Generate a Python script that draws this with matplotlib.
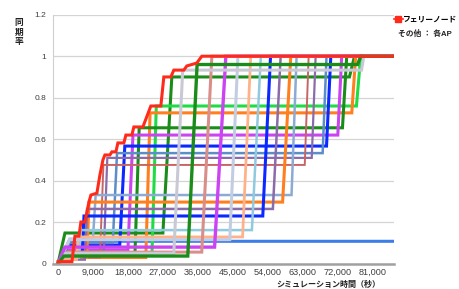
import matplotlib
matplotlib.use("Agg")
import matplotlib.pyplot as plt
from matplotlib.lines import Line2D

plt.rcParams['font.family'] = ['Liberation Sans', 'Noto Sans CJK JP', 'DejaVu Sans']

# ferry node (red staircase)
ferry_x = [0, 3600, 4370, 5400, 5910, 6940, 7450, 7970, 8480, 10020, 10790, 11570, 12080,
           13360, 13880, 14910, 15420, 16960, 17480, 19020, 19530, 21850, 23900, 26470,
           27240, 29040, 29810, 32380, 33150, 35720, 37010, 86400]
ferry_y = [0.01, 0.01, 0.133, 0.133, 0.201, 0.201, 0.249, 0.297, 0.331, 0.340, 0.427, 0.50, 0.524,
           0.524, 0.539, 0.539, 0.582, 0.582, 0.62, 0.62, 0.659, 0.659, 0.76, 0.76,
           0.90, 0.90, 0.933, 0.933, 0.953, 0.967, 1.0, 1.0]

# access points (time [s], sync rate)
ap01_x = [0, 1500, 33400, 35800, 77100, 77900, 86400]
ap01_y = [0, 0.037, 0.037, 0.96, 0.96, 1.0, 1.0]
ap02_x = [0, 2000, 29800, 32100, 78100, 78700, 86400]
ap02_y = [0, 0.05, 0.05, 0.933, 0.933, 1.0, 1.0]
ap03_x = [0, 2500, 37000, 39600, 86400]
ap03_y = [0, 0.056, 0.056, 1.0, 1.0]
ap04_x = [0, 1800, 40300, 43200, 86400]
ap04_y = [0, 0.08, 0.08, 1.0, 1.0]
ap21_x = [0, 3000, 86400]
ap21_y = [0, 0.108, 0.108]
ap05_x = [0, 3000, 44200, 46300, 86400]
ap05_y = [0, 0.116, 0.116, 1.0, 1.0]
ap06_x = [0, 2000, 4800, 5200, 47500, 49600, 86400]
ap06_y = [0, 0.02, 0.02, 0.129, 0.129, 1.0, 1.0]
ap07_x = [0, 2000, 5400, 5900, 49900, 52200, 86400]
ap07_y = [0, 0.03, 0.03, 0.162, 0.162, 1.0, 1.0]
ap08_x = [0, 1500, 6200, 6700, 52700, 54700, 86400]
ap08_y = [0, 0.04, 0.04, 0.23, 0.23, 1.0, 1.0]
ap09_x = [0, 1500, 6900, 7500, 55300, 57300, 86400]
ap09_y = [0, 0.02, 0.02, 0.264, 0.264, 1.0, 1.0]
ap10_x = [0, 2000, 7400, 8000, 57800, 59900, 86400]
ap10_y = [0, 0.03, 0.03, 0.297, 0.297, 1.0, 1.0]
ap11_x = [0, 3000, 9000, 9700, 60100, 61400, 86400]
ap11_y = [0, 0.12, 0.12, 0.331, 0.331, 1.0, 1.0]
ap12_x = [0, 2000, 10800, 11700, 63500, 64500, 86400]
ap12_y = [0, 0.03, 0.03, 0.476, 0.476, 1.0, 1.0]
ap13_x = [0, 2500, 11800, 12700, 65300, 66300, 86400]
ap13_y = [0, 0.06, 0.06, 0.51, 0.51, 1.0, 1.0]
ap14_x = [0, 3000, 14100, 15200, 68100, 69100, 86400]
ap14_y = [0, 0.10, 0.10, 0.533, 0.533, 1.0, 1.0]
ap15_x = [0, 2500, 15900, 17200, 69100, 70200, 86400]
ap15_y = [0, 0.09, 0.09, 0.567, 0.567, 1.0, 1.0]
ap16_x = [0, 1500, 18000, 19300, 72000, 73000, 86400]
ap16_y = [0, 0.066, 0.066, 0.62, 0.62, 1.0, 1.0]
ap17_x = [0, 1500, 19800, 20900, 73200, 74300, 86400]
ap17_y = [0, 0.04, 0.04, 0.655, 0.655, 1.0, 1.0]
ap18_x = [0, 2000, 22600, 23700, 75600, 76600, 86400]
ap18_y = [0, 0.03, 0.03, 0.727, 0.727, 1.0, 1.0]
ap19_x = [0, 2500, 24200, 25300, 76800, 77900, 86400]
ap19_y = [0, 0.05, 0.05, 0.76, 0.76, 1.0, 1.0]
ap20_x = [0, 1800, 27000, 29300, 75000, 76300, 86400]
ap20_y = [0, 0.148, 0.148, 0.90, 0.90, 1.0, 1.0]

x_ticks = list(range(0, 81001, 9000))
y_ticks = [0, 0.2, 0.4, 0.6, 0.8, 1.0, 1.2]
y_labels = ['0', '0.2', '0.4', '0.6', '0.8', '1', '1.2']

dgreen = '#1a8c1a'
orange = '#ff7f1e'
blue = '#0a28ff'
magenta = '#cc44f2'
pgray = '#8b6ba9'

series = [
    (ap21_x, ap21_y, '#3d7de8', 2.2),
    (ap20_x, ap20_y, dgreen, 2.2),
    (ap19_x, ap19_y, '#1fdc45', 2.2),
    (ap18_x, ap18_y, orange, 2.2),
    (ap17_x, ap17_y, dgreen, 2.2),
    (ap16_x, ap16_y, magenta, 2.2),
    (ap15_x, ap15_y, blue, 2.2),
    (ap14_x, ap14_y, '#5b8dcb', 1.8),
    (ap13_x, ap13_y, pgray, 1.6),
    (ap12_x, ap12_y, '#c96464', 1.4),
    (ap11_x, ap11_y, '#8cabd4', 1.8),
    (ap10_x, ap10_y, orange, 2.2),
    (ap09_x, ap09_y, pgray, 1.8),
    (ap08_x, ap08_y, blue, 2.2),
    (ap07_x, ap07_y, '#8fcadf', 1.8),
    (ap06_x, ap06_y, '#ffb28a', 2.0),
    (ap05_x, ap05_y, '#c3cde2', 2.2),
    (ap04_x, ap04_y, magenta, 2.4),
    (ap03_x, ap03_y, '#d98e8a', 2.2),
    (ap02_x, ap02_y, '#c9c9d6', 2.2),
    (ap01_x, ap01_y, dgreen, 2.4),
]

fig = plt.figure(figsize=(4.6, 2.89), dpi=100)
ax = fig.add_axes([0.115, 0.0875, 0.741, 0.8616])

for xs, ys, c, lw in series:
    ax.plot(xs, ys, color=c, lw=lw, solid_joinstyle='miter')

ax.plot(ferry_x, ferry_y, color='#ff2a1a', lw=2.2, zorder=5, solid_joinstyle='miter')

ax.set_xlim(-1300, 86400)
ax.set_ylim(0, 1.2)
ax.set_xticks(x_ticks)
ax.set_xticklabels([f'{v:,}' for v in x_ticks])
ax.set_yticks(y_ticks)
ax.set_yticklabels(y_labels)
ax.tick_params(axis='both', length=0, colors='#404040')
ax.tick_params(axis='y', labelsize=6, pad=5)
ax.tick_params(axis='x', labelsize=6.6, pad=3)
ax.yaxis.grid(True, color='#d4d4d4', lw=0.9)
ax.set_axisbelow(True)
for s in ['top', 'right']:
    ax.spines[s].set_visible(False)
ax.spines['left'].set_color('#d0d0d0')
ax.spines['left'].set_linewidth(0.8)
ax.spines['bottom'].set_color('#a0a0a0')
ax.spines['bottom'].set_linewidth(1.8)

fig.text(19 / 460, 1 - 32 / 289, '同\n期\n率', ha='center', va='center',
         fontsize=6.3, fontweight='bold', linespacing=1.05, color='#222222')
fig.text(328 / 460, 1 - 285 / 289, 'シミュレーション時間（秒）', ha='center', va='center',
         fontsize=5.8, fontweight='bold', color='#222222')

handle = Line2D([], [], color='#ff2a1a', marker='s', markersize=4, lw=1.2)
fig.legend([handle], ['フェリーノード'], loc='center left',
           bbox_to_anchor=(394 / 460, 1 - 20 / 289), frameon=False,
           handlelength=1.1, handletextpad=0.1, borderpad=0, borderaxespad=0,
           prop={'size': 5.6, 'weight': 'bold'})
fig.text(398 / 460, 1 - 34 / 289, 'その他 ： 各AP', ha='left', va='center',
         fontsize=5.6, fontweight='bold', color='#222222')

fig.savefig('out.png', dpi=100)
